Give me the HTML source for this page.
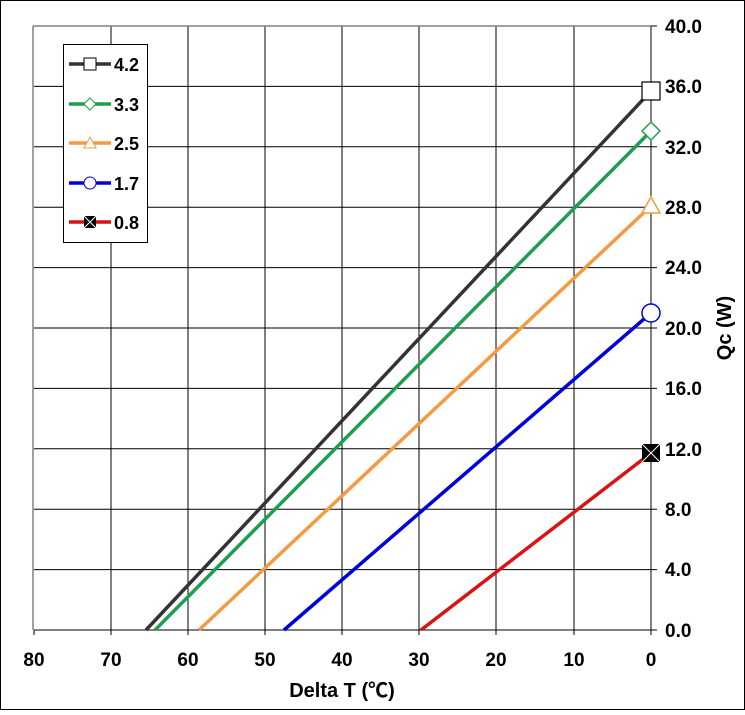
<!DOCTYPE html><html><head><style>body{margin:0;background:#fff}</style></head><body>
<svg width="745" height="710" xmlns="http://www.w3.org/2000/svg" font-family="Liberation Sans, Arial, sans-serif" font-weight="bold">
<rect x="0.5" y="0.5" width="744" height="709" fill="#fff" stroke="#000"/>
<g stroke="#000" stroke-width="1">
<line x1="111" y1="26" x2="111" y2="635"/><line x1="188" y1="26" x2="188" y2="635"/><line x1="265" y1="26" x2="265" y2="635"/><line x1="342" y1="26" x2="342" y2="635"/><line x1="419" y1="26" x2="419" y2="635"/><line x1="496" y1="26" x2="496" y2="635"/><line x1="574" y1="26" x2="574" y2="635"/>
<line x1="34" y1="635" x2="34" y2="630"/>
<line x1="34" y1="86.4" x2="657" y2="86.4"/><line x1="34" y1="146.8" x2="657" y2="146.8"/><line x1="34" y1="207.2" x2="657" y2="207.2"/><line x1="34" y1="267.6" x2="657" y2="267.6"/><line x1="34" y1="328" x2="657" y2="328"/><line x1="34" y1="388.4" x2="657" y2="388.4"/><line x1="34" y1="448.8" x2="657" y2="448.8"/><line x1="34" y1="509.2" x2="657" y2="509.2"/><line x1="34" y1="569.6" x2="657" y2="569.6"/>
<line x1="651" y1="26" x2="657" y2="26"/>
<line x1="34" y1="630" x2="657" y2="630"/><line x1="651" y1="26" x2="651" y2="635"/>
</g>
<line x1="33" y1="26" x2="651" y2="26" stroke="#808080" stroke-width="1.5"/>
<line x1="33" y1="26" x2="33" y2="630" stroke="#808080" stroke-width="1.5"/>
<g stroke-width="3.5" fill="none">
<line x1="146" y1="630" x2="651" y2="91" stroke="#333"/>
<line x1="155" y1="630" x2="651" y2="131" stroke="#1e9e4f"/>
<line x1="199" y1="630" x2="651" y2="206" stroke="#f49a40"/>
<line x1="284" y1="630" x2="651" y2="313" stroke="#0000dd"/>
<line x1="421" y1="630" x2="651" y2="453" stroke="#dd1111"/>
</g>
<rect x="642" y="82" width="18" height="18" fill="#fff" stroke="#000" stroke-width="1.2"/>
<polygon points="651,122 660,131 651,140 642,131" fill="#fff" stroke="#1e9e4f" stroke-width="1.5"/>
<polygon points="651,197 660,213 642,213" fill="#fff" stroke="#f49a40" stroke-width="1.5"/>
<circle cx="651" cy="313" r="9" fill="#fff" stroke="#0000dd" stroke-width="1.5"/>
<rect x="642" y="444" width="18" height="18" fill="#000"/><path d="M642 444L660 462M660 444L642 462" stroke="#fff" stroke-width="1"/>
<rect x="63.5" y="44.5" width="84" height="198" fill="#fff" stroke="#000"/>
<g stroke-width="3.5">
<line x1="69" y1="64" x2="111" y2="64" stroke="#333"/>
<line x1="69" y1="104" x2="111" y2="104" stroke="#1e9e4f"/>
<line x1="69" y1="143" x2="111" y2="143" stroke="#f49a40"/>
<line x1="69" y1="183" x2="111" y2="183" stroke="#0000dd"/>
<line x1="69" y1="222" x2="111" y2="222" stroke="#dd1111"/>
</g>
<rect x="84" y="58" width="12" height="12" fill="#fff" stroke="#000"/>
<polygon points="90,98 96,104 90,110 84,104" fill="#fff" stroke="#1e9e4f"/>
<polygon points="90,137 96,148 84,148" fill="#fff" stroke="#f49a40"/>
<circle cx="90" cy="183" r="6" fill="#fff" stroke="#0000dd"/>
<rect x="84" y="216" width="12" height="12" fill="#000"/><path d="M84 216L96 228M96 216L84 228" stroke="#fff"/>
<g font-size="18" fill="#000">
<text x="114" y="71">4.2</text><text x="114" y="111">3.3</text><text x="114" y="150">2.5</text><text x="114" y="190">1.7</text><text x="114" y="229">0.8</text>
</g>
<g font-size="19" fill="#000">
<text x="665" y="33">40.0</text><text x="665" y="93">36.0</text><text x="665" y="154">32.0</text><text x="665" y="214">28.0</text><text x="665" y="274">24.0</text><text x="665" y="335">20.0</text><text x="665" y="395">16.0</text><text x="665" y="456">12.0</text><text x="665" y="516">8.0</text><text x="665" y="576">4.0</text><text x="665" y="637">0.0</text>
</g>
<g font-size="19" fill="#000" text-anchor="middle">
<text x="34" y="666">80</text><text x="111" y="666">70</text><text x="188" y="666">60</text><text x="265" y="666">50</text><text x="342" y="666">40</text><text x="419" y="666">30</text><text x="496" y="666">20</text><text x="574" y="666">10</text><text x="651" y="666">0</text>
<text x="342" y="697" font-size="20" font-family="Liberation Sans, Noto Sans CJK SC, sans-serif">Delta T (℃)</text>
</g>
<text transform="translate(731,328) rotate(-90)" font-size="20" text-anchor="middle">Qc (W)</text>
</svg>
</body></html>
